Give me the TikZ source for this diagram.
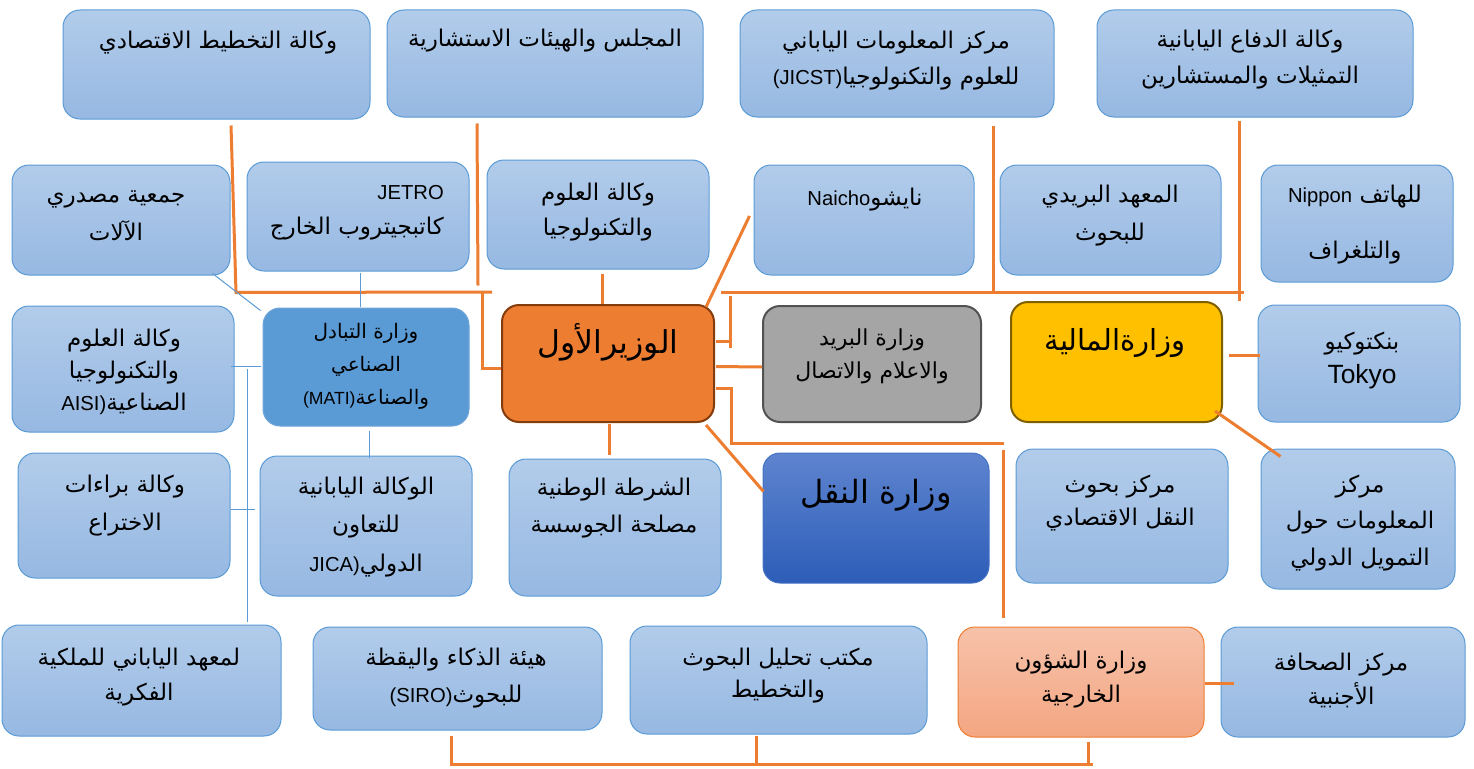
\documentclass[tikz,border=0pt]{standalone}
\usepackage{fontspec}
\setmainfont[Scale=0.88]{Liberation Sans}
\newfontfamily\arabicfont[Script=Arabic]{DejaVu Sans}
\TeXXeTstate=1
\usetikzlibrary{calc}
\definecolor{lbtop}{HTML}{B2CCEA}
\definecolor{lbbot}{HTML}{96B8E2}
\definecolor{lbdraw}{HTML}{5B9BD5}
\definecolor{orng}{HTML}{ED7D31}
\definecolor{orngbd}{HTML}{843C0C}
\definecolor{matifill}{HTML}{5B9BD5}
\definecolor{matibd}{HTML}{6FA6DA}
\definecolor{postfill}{HTML}{A5A5A5}
\definecolor{postbd}{HTML}{525252}
\definecolor{finfill}{HTML}{FFC000}
\definecolor{finbd}{HTML}{7F6000}
\definecolor{trtop}{HTML}{5E84CF}
\definecolor{trbot}{HTML}{2D5DB8}
\definecolor{trbd}{HTML}{4472C4}
\definecolor{fatop}{HTML}{F6C2AA}
\definecolor{fabot}{HTML}{F4A682}
\newcommand\ar[1]{{\arabicfont\beginR #1\endR}}
\newcommand\la[1]{\beginL{\rmfamily #1}\endL}
\newcommand\fs[2]{\fontsize{#1}{#2}\selectfont}
\newcommand\bx[6]{\node[#6, minimum width={#4-#2}, minimum height={#5-#3}] (#1) at ({(#2+#4)/2},{(#3+#5)/2}) {};}
\begin{document}
\begin{tikzpicture}[x=1pt,y=-1pt,
  boxbase/.style={rectangle, rounded corners=17pt, inner sep=0pt},
  lb/.style={boxbase, draw=lbdraw, line width=1pt, top color=lbtop, bottom color=lbbot},
  mati/.style={boxbase, draw=matibd, line width=1pt, fill=matifill},
  fm/.style={boxbase, draw=orngbd, line width=2pt, fill=orng},
  post/.style={boxbase, draw=postbd, line width=2pt, fill=postfill},
  fin/.style={boxbase, draw=finbd, line width=2pt, fill=finfill},
  trans/.style={boxbase, draw=trbd, line width=1pt, top color=trtop, bottom color=trbot},
  fa/.style={boxbase, draw=orng, line width=1pt, top color=fatop, bottom color=fabot},
  txt/.style={inner sep=0pt, align=center, font=\fs{23}{36}},
  oc/.style={draw=orng, line width=3pt},
  bc/.style={draw=lbdraw, line width=1pt}]
\useasboundingbox (0,0) rectangle (1474,768);
\fill[white] (0,0) rectangle (1474,768);
% boxes
\bx{A1}{63}{10}{370}{119}{lb}
\bx{A2}{387}{10}{703}{117}{lb}
\bx{A3}{740}{10}{1054}{117}{lb}
\bx{A4}{1097}{10}{1413}{117}{lb}
\bx{B1}{12}{165}{230}{275}{lb}
\bx{B2}{247}{162}{469}{271}{lb}
\bx{B3}{487}{160}{709}{269}{lb}
\bx{B4}{754}{165}{974}{275}{lb}
\bx{B5}{1000}{165}{1221}{275}{lb}
\bx{B6}{1261}{165}{1453}{282}{lb}
\bx{C1}{12}{306}{234}{432}{lb}
\bx{C2}{263}{308}{469}{426}{mati}
\bx{C3}{502}{305}{714}{422}{fm}
\bx{C4}{763}{306}{981}{422}{post}
\bx{C5}{1011}{302}{1222}{422}{fin}
\bx{C6}{1258}{305}{1460}{422}{lb}
\bx{D1}{18}{453}{230}{578}{lb}
\bx{D2}{260}{456}{472}{596}{lb}
\bx{D3}{509}{459}{721}{596}{lb}
\bx{D4}{763}{453}{989}{583}{trans}
\bx{D5}{1016}{449}{1228}{583}{lb}
\bx{D6}{1261}{449}{1455}{589}{lb}
\bx{E1}{2}{625}{281}{736}{lb}
\bx{E2}{313}{627}{602}{730}{lb}
\bx{E3}{630}{626}{927}{734}{lb}
\bx{E4}{958}{627}{1204}{737}{fa}
\bx{E5}{1221}{627}{1465}{737}{lb}
% junction coordinates
\coordinate (jL) at (492,292);
\coordinate (jL2) at (482,292);
\coordinate (jR1) at (721,292);
\coordinate (jR2) at (1244,292);
\coordinate (kTop) at (730,296);
\coordinate (kTopB) at (730,348);
\coordinate (kBot) at (731,387);
\coordinate (kBotR) at (1004,443);
\coordinate (jB) at (1093,764);
\coordinate (bV1) at (247,369);
\coordinate (bV2) at (247,622);
% orange connectors
\draw[oc] ($(A1.south)+(14.5,6)$) -- ($(A1.south)+(19.5,173)$) -- (jL);
\draw[oc] ($(A2.south)+(-68,6)$) -- ($(A2.south)+(-67,168)$);
\draw[oc] (jL2) |- ($(C3.west)+(0,5)$);
\draw[oc] ($(B3.south)+(4,4)$) -- ($(C3.north)+(-6,0)$);
\draw[oc] ($(C3.north east)+(-9,3)$) -- ($(B4.west)+(-4,-4)$);
\draw[oc] (jR1) -- (jR2);
\draw[oc] ($(A3.south)+(96,8)$) -- ($(A3.south)+(96,175)$);
\draw[oc] ($(A4.south)+(-16,3)$) -- ($(A4.south)+(-16,183)$);
\draw[oc] ($(C3.east)+(1,-22)$) -- (kTop |- {$(C3.east)+(1,-22)$});
\draw[oc] (kTop) -- (kTopB);
\draw[oc] ($(C3.east)+(1,3)$) -- ($(C4.west)+(0,3)$);
\draw[oc] ($(C3.east)+(1,24.5)$) -- (kBot |- {$(C3.east)+(1,24.5)$});
\draw[oc] (kBot) |- (kBotR);
\draw[oc] ($(E4.north)+(-78,-177)$) -- ($(E4.north)+(-78,-9)$);
\draw[oc] ($(C3.south)+(1,1)$) -- ($(D3.north)+(-6,-4)$);
\draw[oc] ($(C3.south east)+(-9,2)$) -- ($(D4.north west)+(1,39)$);
\draw[oc] ($(C5.east)+(6,-7)$) -- ($(C6.west)+(2,-8.5)$);
\draw[oc] ($(C5.south east)+(-8,-12)$) -- ($(D6.north west)+(20,8)$);
\draw[oc] ($(E4.east)+(0,1)$) -- ($(E5.west)+(13,1)$);
\draw[oc] ($(E2.south)+(-6.5,5)$) |- (jB);
\draw[oc] ($(E3.south)+(-22.5,1)$) -- ($(E3.south)+(-22.5,30)$);
\draw[oc] ($(E4.south)+(7,4)$) -- ($(E4.south)+(7,27)$);
% blue connectors
\draw[bc] ($(B1.south east)+(-18,-2)$) -- ($(C2.north west)+(-2,3)$);
\draw[bc] ($(B2.south)+(2,1)$) -- ($(C2.north)+(-6,-1)$);
\draw[bc] ($(C2.south)+(3.5,4)$) -- ($(D2.north)+(3.5,2)$);
\draw[bc] ($(C1.east)+(-4,-3)$) -- ($(C2.west)+(-2,-1)$);
\draw[bc] (bV1) -- (bV2);
\draw[bc] ($(D1.east)+(0,-6.5)$) -- ($(D1.east)+(24,-6.5)$);
% texts
\node[txt] (tA1) at (218,43) {\ar{وكالة التخطيط الاقتصادي}};
\node[txt] (tA2) at (545,41) {\ar{المجلس والهيئات الاستشارية}};
\node[txt] (tA3) at (896,61) {\ar{مركز المعلومات الياباني}\\\ar{للعلوم والتكنولوجيا\la{(JICST)}}};
\node[txt] (tA4) at (1250,60) {\ar{وكالة الدفاع اليابانية}\\\ar{التمثيلات والمستشارين}};
\node[txt,font=\fs{23}{38}] (tB1) at (116,216) {\ar{جمعية مصدري}\\\ar{الآلات}};
\node[txt,align=right,anchor=east,font=\fs{23}{35}] (tB2) at (444,212.5) {JETRO\\\ar{كاتبجيتروب الخارج}};
\node[txt,font=\fs{23}{35}] (tB3) at (598,212.5) {\ar{وكالة العلوم}\\\ar{والتكنولوجيا}};
\node[txt] (tB4) at (865,200) {\ar{نايشو\la{Naicho}}};
\node[txt,font=\fs{23}{38}] (tB5) at (1110,216) {\ar{المعهد البريدي}\\\ar{للبحوث}};
\node[txt,font=\fs{23}{56}] (tB6) at (1355,225) {\ar{للهاتف \la{Nippon}}\\\ar{والتلغراف}};
\node[txt,font=\fs{23}{32}] (tC1) at (124,372) {\ar{وكالة العلوم}\\\ar{والتكنولوجيا}\\\ar{الصناعية\la{AISI)}}};
\node[txt,font=\fs{20}{33}] (tC2) at (366,366) {\ar{وزارة التبادل}\\\ar{الصناعي}\\\ar{والصناعة\la{(MATI)}}};
\node[txt,font=\fs{31.5}{36}] (tC3) at (608,342) {\ar{الوزيرالأول}};
\node[txt,font=\fs{22}{33}] (tC4) at (872,356.5) {\ar{وزارة البريد}\\\ar{والاعلام والاتصال}};
\node[txt,font=\fs{29}{36}] (tC5) at (1115,343) {\ar{وزارةالمالية}};
\node[txt,font=\fs{23}{34}] (tC6) at (1362,360) {\ar{بنكتوكيو}\\{\fontsize{30}{34}\selectfont Tokyo}};
\node[txt,font=\fs{23}{38}] (tD1) at (125,506) {\ar{وكالة براءات}\\\ar{الاختراع}};
\node[txt,font=\fs{23}{38.5}] (tD2) at (366,527) {\ar{الوكالة اليابانية}\\\ar{للتعاون}\\\ar{الدولي\la{JICA)}}};
\node[txt,font=\fs{23}{37}] (tD3) at (614,508.5) {\ar{الشرطة الوطنية}\\\ar{مصلحة الجوسسة}};
\node[txt,font=\fs{32}{36}] (tD4) at (876,495) {\ar{وزارة النقل}};
\node[txt,font=\fs{23}{33}] (tD5) at (1120,503.5) {\ar{مركز بحوث}\\\ar{النقل الاقتصادي}};
\node[txt,font=\fs{23}{36.5}] (tD6) at (1360,523) {\ar{مركز}\\\ar{المعلومات حول}\\\ar{التمويل الدولي}};
\node[txt,font=\fs{23}{35}] (tE1) at (139,677.5) {\ar{لمعهد الياباني للملكية}\\\ar{الفكرية}};
\node[txt,font=\fs{23}{37}] (tE2) at (456,678.5) {\ar{هيئة الذكاء واليقظة}\\\ar{للبحوث\la{(SIRO)}}};
\node[txt,font=\fs{23}{32}] (tE3) at (778,676) {\ar{مكتب تحليل البحوث}\\\ar{والتخطيط}};
\node[txt,font=\fs{23}{34}] (tE4) at (1081,680) {\ar{وزارة الشؤون}\\\ar{الخارجية}};
\node[txt,font=\fs{23}{34}] (tE5) at (1341,680) {\ar{مركز الصحافة}\\\ar{الأجنبية}};
\end{tikzpicture}
\end{document}
